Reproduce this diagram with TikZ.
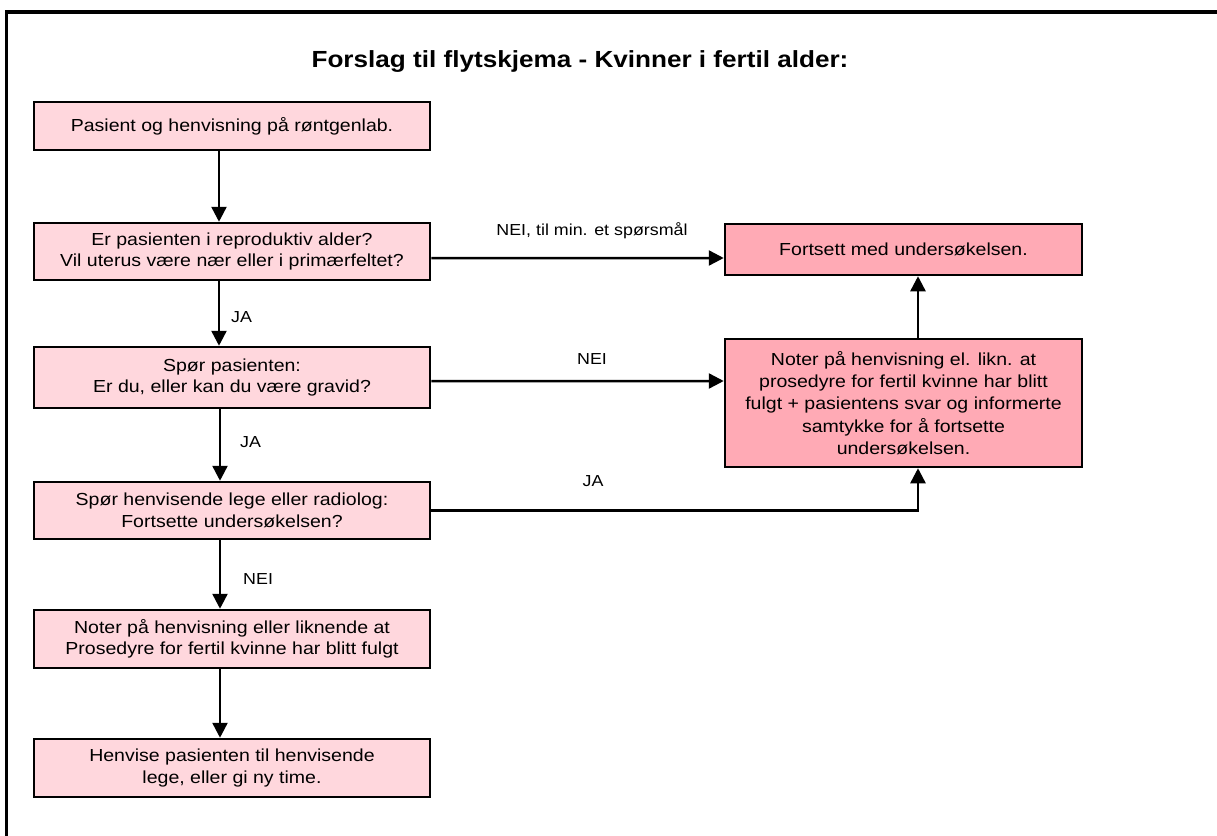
\documentclass[tikz,border=0pt]{standalone}
\usepackage{fontspec}
\setmainfont{Liberation Sans}[FakeStretch=1.12]
\usetikzlibrary{arrows.meta}
\definecolor{pinkL}{RGB}{255,215,221}
\definecolor{pinkD}{RGB}{255,170,181}
\begin{document}
\begin{tikzpicture}[x=1bp,y=-1bp,
 box/.style={draw=black, line width=2.5bp, fill=pinkL, minimum width=396bp, align=center, inner sep=0pt, font=\fontsize{17.5}{21.5}\selectfont},
 rbox/.style={box, fill=pinkD, minimum width=357bp},
 conn/.style={line width=2.5bp, -{Triangle[length=15bp,width=15bp]}},
 lbl/.style={font=\fontsize{16}{20}\selectfont, inner sep=0pt}
]
\useasboundingbox (0,0) rectangle (1217,836);
\draw[line width=3.5bp] (1217,12) -- (6.5,12) -- (6.5,836);
\node[font=\bfseries\fontsize{23.4}{27}\selectfont] (title) at (580,62) {Forslag til flytskjema - Kvinner i fertil alder:};

\node[box, minimum height=48bp] (b1) at (232,126) {Pasient og henvisning på røntgenlab.};
\node[box, minimum height=57bp] (b2) at (232,251.5) {Er pasienten i reproduktiv alder?\\Vil uterus være nær eller i primærfeltet?};
\node[box, minimum height=61bp] (b3) at (232,377.5) {Spør pasienten:\\Er du, eller kan du være gravid?};
\node[box, minimum height=57bp] (b4) at (232,510.5) {Spør henvisende lege eller radiolog:\\Fortsette undersøkelsen?};
\node[box, minimum height=58bp] (b5) at (232,639) {Noter på henvisning eller liknende at\\Prosedyre for fertil kvinne har blitt fulgt};
\node[box, minimum height=58bp] (b6) at (232,768) {Henvise pasienten til henvisende\\lege, eller gi ny time.};

\node[rbox, minimum height=51bp] (A) at (903.5,249.5) {Fortsett med undersøkelsen.};
\node[rbox, minimum height=128bp, font=\fontsize{17.5}{22.5}\selectfont] (B) at (903.5,403) {Noter på henvisning el. likn. at\\prosedyre for fertil kvinne har blitt\\fulgt + pasientens svar og informerte\\samtykke for å fortsette\\undersøkelsen.};

\draw[conn] ([xshift=-13bp]b1.south) -- ([xshift=-13bp]b2.north);
\draw[conn] ([xshift=-13bp]b2.south) -- ([xshift=-13bp]b3.north);
\draw[conn] ([xshift=-12bp]b3.south) -- ([xshift=-12bp]b4.north);
\draw[conn] ([xshift=-12bp]b4.south) -- ([xshift=-12bp]b5.north);
\draw[conn] ([xshift=-12bp]b5.south) -- ([xshift=-12bp]b6.north);

\draw[conn] ([yshift=-6.5bp]b2.east) -- ([yshift=-8.5bp]A.west);
\draw[conn] ([yshift=-3.5bp]b3.east) -- ([yshift=22bp]B.west);
\draw[conn] (b4.east) -| ([xshift=14.5bp]B.south);
\draw[conn] ([xshift=14.5bp]B.north) -- ([xshift=14.5bp]A.south);

\node[lbl] (l1) at (592,231) {NEI, til min. et spørsmål};
\node[lbl] (l2) at (592,359) {NEI};
\node[lbl] (l3) at (593,481) {JA};
\node[lbl, anchor=west] (l4) at (231,317) {JA};
\node[lbl, anchor=west] (l5) at (240,442) {JA};
\node[lbl, anchor=west] (l6) at (243,579) {NEI};
\end{tikzpicture}
\end{document}
